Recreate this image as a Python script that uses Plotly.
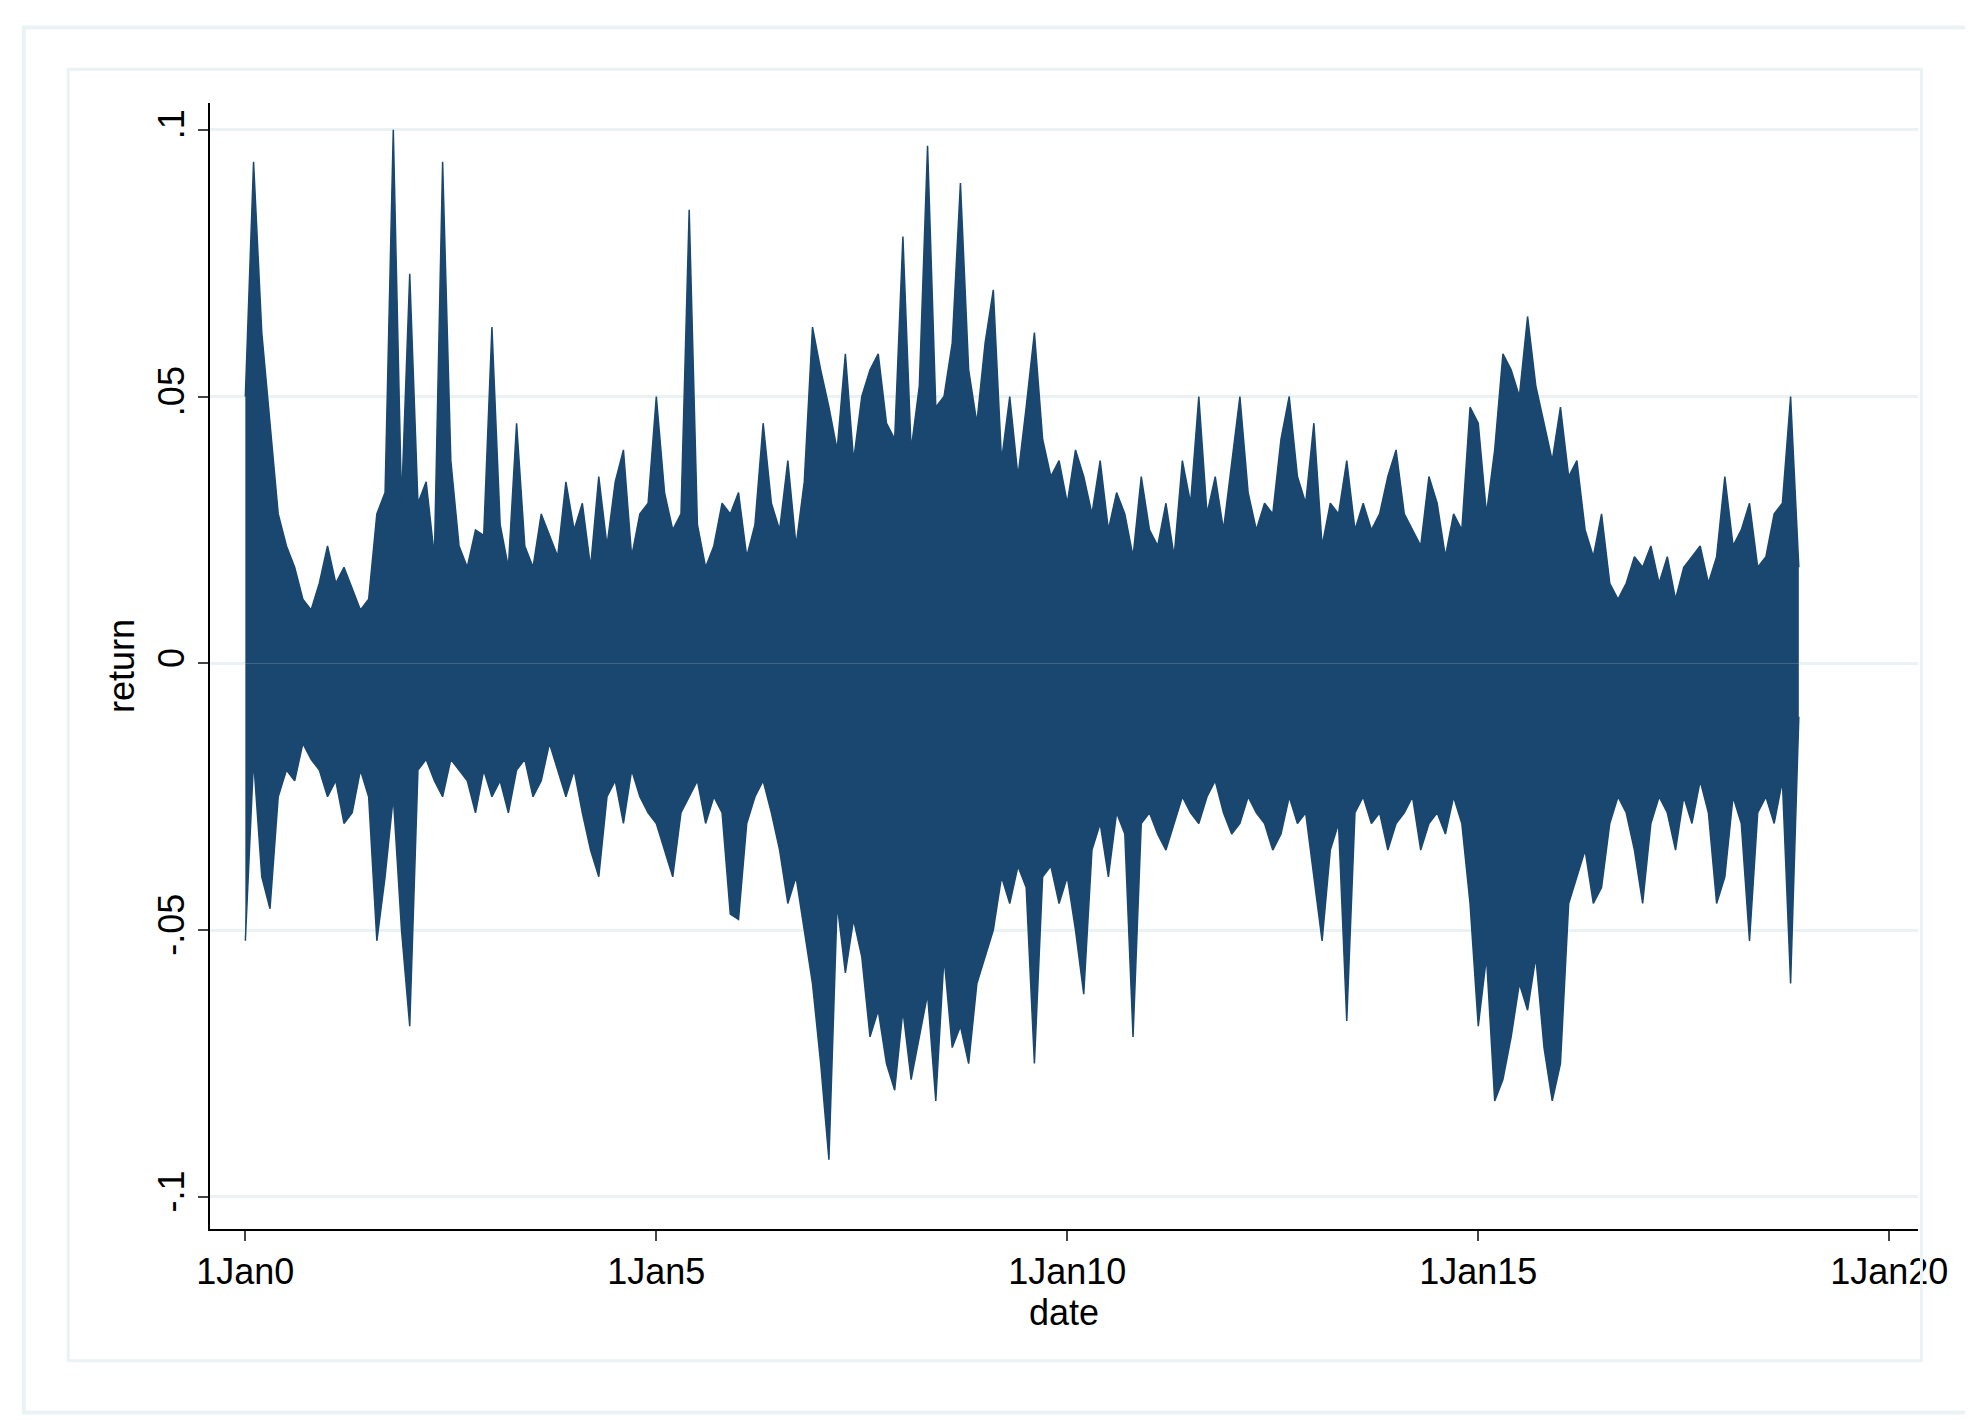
import plotly.graph_objects as go

# daily return envelope, sampled every 0.1 year (values in 1/1000)
years = [i / 10 for i in range(190)]
upper = [50, 94, 62, 45, 28, 22, 18, 12, 10, 15,
         22, 15, 18, 14, 10, 12, 28, 32, 100, 30,
         73, 30, 34, 20, 94, 38, 22, 18, 25, 24,
         63, 26, 18, 45, 22, 18, 28, 24, 20, 34,
         25, 30, 18, 35, 22, 34, 40, 20, 28, 30,
         50, 32, 25, 28, 85, 26, 18, 22, 30, 28,
         32, 20, 26, 45, 30, 25, 38, 22, 34, 63,
         55, 48, 40, 58, 38, 50, 55, 58, 45, 42,
         80, 40, 52, 97, 48, 50, 60, 90, 55, 45,
         60, 70, 38, 50, 35, 48, 62, 42, 35, 38,
         30, 40, 35, 28, 38, 25, 32, 28, 20, 35,
         25, 22, 30, 20, 38, 30, 50, 28, 35, 25,
         38, 50, 32, 25, 30, 28, 42, 50, 35, 30,
         45, 22, 30, 28, 38, 25, 30, 25, 28, 35,
         40, 28, 25, 22, 35, 30, 20, 28, 25, 48,
         45, 28, 40, 58, 55, 50, 65, 52, 45, 38,
         48, 35, 38, 25, 20, 28, 15, 12, 15, 20,
         18, 22, 15, 20, 12, 18, 20, 22, 15, 20,
         35, 22, 25, 30, 18, 20, 28, 30, 50, 18]
lower = [-52, -18, -40, -46, -25, -20, -22, -15, -18, -20,
         -25, -22, -30, -28, -20, -25, -52, -40, -25, -50,
         -68, -20, -18, -22, -25, -18, -20, -22, -28, -20,
         -25, -22, -28, -20, -18, -25, -22, -15, -20, -25,
         -20, -28, -35, -40, -25, -22, -30, -20, -25, -28,
         -30, -35, -40, -28, -25, -22, -30, -25, -28, -47,
         -48, -30, -25, -22, -28, -35, -45, -40, -50, -60,
         -75, -93, -45, -58, -48, -55, -70, -65, -75, -80,
         -65, -78, -70, -62, -82, -55, -72, -68, -75, -60,
         -55, -50, -40, -45, -38, -42, -75, -40, -38, -45,
         -40, -50, -62, -35, -30, -40, -28, -32, -70, -30,
         -28, -32, -35, -30, -25, -28, -30, -25, -22, -28,
         -32, -30, -25, -28, -30, -35, -32, -25, -30, -28,
         -40, -52, -35, -30, -67, -28, -25, -30, -28, -35,
         -30, -28, -25, -35, -30, -28, -32, -25, -30, -45,
         -68, -55, -82, -78, -70, -60, -65, -55, -72, -82,
         -75, -45, -40, -35, -45, -42, -30, -25, -28, -35,
         -45, -30, -25, -28, -35, -25, -30, -22, -28, -45,
         -40, -25, -30, -52, -28, -25, -30, -22, -60, -10]
xtick_vals = [0, 5, 10, 15, 20]
xtick_text = ['1Jan0', '1Jan5', '1Jan10', '1Jan15', '1Jan20']
ytick_vals = [-0.1, -0.05, 0, 0.05, 0.1]
ytick_text = ['-.1', '-.05', '0', '.05', '.1']

navy = '#1a476f'
fig = go.Figure()
for env in (upper, lower):
    fig.add_trace(go.Scatter(x=years, y=[v / 1000 for v in env], mode='lines',
                             fill='tozeroy', fillcolor=navy,
                             line=dict(color=navy, width=1.5)))

font = dict(family='Liberation Sans, Arial', size=36, color='black')
fig.update_xaxes(range=[-0.43, 20.35], tickvals=xtick_vals, ticktext=xtick_text,
                 showline=True, linecolor='black', linewidth=2, ticks='outside',
                 ticklen=10, tickwidth=2, showgrid=False, zeroline=False,
                 title=dict(text='date', font=font, standoff=0), tickfont=font)
fig.update_yaxes(range=[-0.106, 0.105], tickvals=ytick_vals, ticktext=ytick_text,
                 tickangle=-90, showline=True, linecolor='black', linewidth=2,
                 ticks='outside', ticklen=10, tickwidth=2, showgrid=True,
                 gridcolor='#eaf2f3', gridwidth=3, zeroline=False,
                 title=dict(text='return', font=font, standoff=5), tickfont=font)
fig.update_layout(width=1973, height=1421, showlegend=False,
                  paper_bgcolor='white', plot_bgcolor='white',
                  margin=dict(l=202, r=63, t=95, b=200),
                  shapes=[dict(type='rect', xref='paper', yref='paper',
                               x0=-0.109, x1=1.033, y0=-0.163, y1=1.067,
                               line=dict(color='#eaf2f3', width=4)),
                          dict(type='rect', xref='paper', yref='paper',
                               x0=-0.083, x1=1.002, y0=-0.117, y1=1.03,
                               line=dict(color='#eaf2f3', width=3))])
fig.write_html('out.html')
